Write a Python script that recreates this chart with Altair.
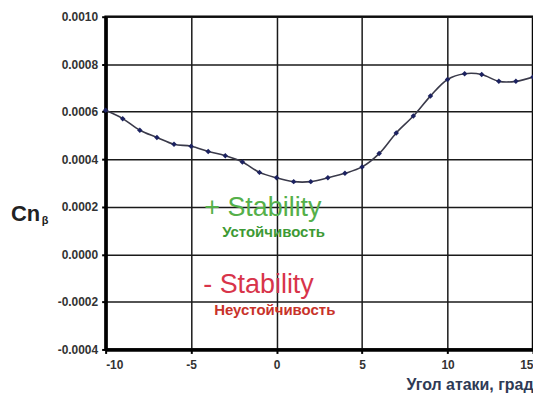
import altair as alt
import pandas as pd

# data
alpha = list(range(-10, 16))
cn_beta = [0.000606, 0.000571, 0.000522, 0.000492, 0.000463, 0.000455, 0.000433,
           0.000415, 0.000389, 0.000345, 0.000322, 0.000306, 0.000306, 0.000322,
           0.000341, 0.000368, 0.000424, 0.000511, 0.000582, 0.000666, 0.000736,
           0.000760, 0.000757, 0.000728, 0.000728, 0.000746]

x_ticks = [-10, -5, 0, 5, 10, 15]
y_ticks = [-0.0004, -0.0002, 0.0, 0.0002, 0.0004, 0.0006, 0.0008, 0.0010]

note_text = ["+ Stability", "Устойчивость", "- Stability", "Неустойчивость"]
note_x = [-4.23, -3.18, -4.29, -3.65]
note_y = [0.000162, 0.000074, -0.000161, -0.000257]

df = pd.DataFrame({"alpha": alpha, "cn": cn_beta})

FONT = "Liberation Sans"

x_enc = alt.X("alpha:Q", scale=alt.Scale(domain=[-10, 15], nice=False),
              axis=alt.Axis(values=x_ticks, title="Угол атаки, град",
                            labelExpr="replace(format(datum.value, 'd'), '\u2212', '-')",
                            titleAnchor="end", titleAlign="right",
                            titleFontSize=16, titleFont=FONT, titleFontWeight="bold",
                            titleColor="#2e3a55", titlePadding=6,
                            labelFont=FONT, labelFontWeight="bold", labelFontSize=12,
                            labelColor="#333333", labelPadding=6,
                            domainColor="#000000", domainWidth=3.5,
                            tickColor="#000000", tickSize=4, tickWidth=2,
                            gridColor="#1a1a1a", gridWidth=1.5, gridOpacity=1))
y_enc = alt.Y("cn:Q", scale=alt.Scale(domain=[-0.0004, 0.001], nice=False, zero=False),
              axis=alt.Axis(values=y_ticks, title=None,
                            labelExpr="replace(format(datum.value, '.4f'), '\u2212', '-')",
                            labelFont=FONT, labelFontWeight="bold", labelFontSize=12,
                            labelColor="#333333", labelPadding=4,
                            domainColor="#000000", domainWidth=3.5,
                            tickColor="#000000", tickSize=4, tickWidth=2,
                            gridColor="#1a1a1a", gridWidth=1.5, gridOpacity=1))

base = alt.Chart(df)
line = base.mark_line(color="#3a3a4a", strokeWidth=1.6, interpolate="catmull-rom").encode(x=x_enc, y=y_enc)
pts = base.mark_point(filled=True, shape="diamond", size=30, color="#1c2260", opacity=1).encode(x="alpha:Q", y="cn:Q")

notes = pd.DataFrame({"t": note_text, "x": note_x, "y": note_y,
                      "size": [27, 15, 27, 15],
                      "weight": ["normal", "bold", "normal", "bold"],
                      "color": ["#55b04a", "#3d9a35", "#d8344a", "#c8322a"]})

def note(i):
    row = notes.iloc[[i]]
    return alt.Chart(row).mark_text(
        align="left", baseline="alphabetic", font=FONT,
        fontSize=int(row["size"].iloc[0]), fontWeight=row["weight"].iloc[0],
        color=row["color"].iloc[0]
    ).encode(x="x:Q", y="y:Q", text="t:N")

title_cn = alt.Chart(pd.DataFrame({"t": ["Cn"]})).mark_text(
    font=FONT, fontSize=22, fontWeight="bold", color="#222222", align="left", baseline="middle"
).encode(x=alt.value(-95), y=alt.value(198), text="t:N")
title_beta = alt.Chart(pd.DataFrame({"t": ["β"]})).mark_text(
    font=FONT, fontSize=11, fontWeight="bold", color="#222222", align="left", baseline="middle"
).encode(x=alt.value(-64), y=alt.value(205), text="t:N")

chart = alt.layer(line, pts, note(0), note(1), note(2), note(3), title_cn, title_beta).properties(
    width=429, height=334,
    autosize=alt.AutoSizeParams(type="none"),
    padding={"left": 98, "top": 8, "right": 0, "bottom": 46},
    background="#ffffff",
).configure_view(stroke="#000000", strokeWidth=2.5)

chart.save("out.html", embed_options={"renderer": "svg", "actions": False})
